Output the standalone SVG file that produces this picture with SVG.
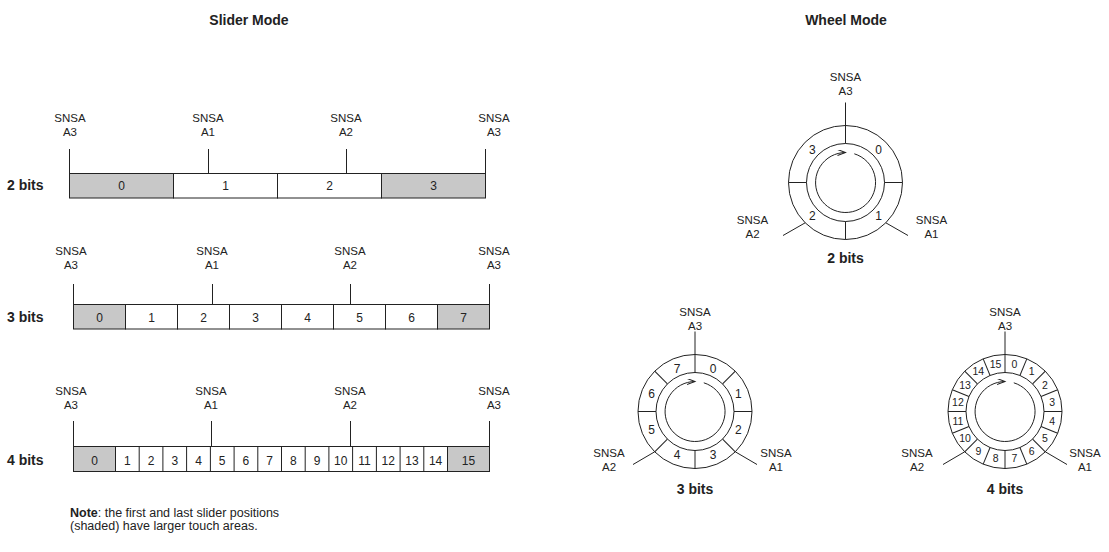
<svg xmlns="http://www.w3.org/2000/svg" width="1109" height="552" viewBox="0 0 1109 552">
<defs>
<style>
text{font-family:"Liberation Sans",Arial,sans-serif;fill:#222;}
.lb{font-size:11.5px;text-anchor:middle;}
.num{font-size:12px;text-anchor:middle;}
.n4{font-size:10.5px;text-anchor:middle;}
.b{font-size:14px;font-weight:bold;}
.t{font-size:14px;font-weight:bold;text-anchor:middle;}
.ln{stroke:#222;stroke-width:1;fill:none;}
.bar{stroke:#222;stroke-width:1;fill:#fff;}
.sh{fill:#c8c8c8;stroke:#222;stroke-width:1;}
.note{font-size:12.5px;}
</style>
<marker id="ah" markerUnits="userSpaceOnUse" markerWidth="10" markerHeight="8" refX="8" refY="3" orient="auto">
<path d="M0,0 L8,3 L0,6" fill="none" stroke="#222" stroke-width="1"/>
</marker>
</defs>

<text class="t" x="249" y="25">Slider Mode</text>
<text class="t" x="846" y="25">Wheel Mode</text>

<!-- Slider 2 bits -->
<g id="slider2">
<text class="b" x="7" y="190">2 bits</text>
<rect class="sh" x="69.5" y="173.5" width="104" height="24.5"/>
<rect class="bar" x="173.5" y="173.5" width="104" height="24.5"/>
<rect class="bar" x="277.5" y="173.5" width="104" height="24.5"/>
<rect class="sh" x="381.5" y="173.5" width="104" height="24.5"/>
<text class="num" x="121.5" y="190">0</text>
<text class="num" x="225.5" y="190">1</text>
<text class="num" x="329.5" y="190">2</text>
<text class="num" x="433.5" y="190">3</text>
</g>
<!-- Slider 3 bits -->
<g id="slider3">
<text class="b" x="7" y="322">3 bits</text>
<rect class="sh" x="73.5" y="304.5" width="52" height="24.5"/>
<rect class="bar" x="125.5" y="304.5" width="52" height="24.5"/>
<rect class="bar" x="177.5" y="304.5" width="52" height="24.5"/>
<rect class="bar" x="229.5" y="304.5" width="52" height="24.5"/>
<rect class="bar" x="281.5" y="304.5" width="52" height="24.5"/>
<rect class="bar" x="333.5" y="304.5" width="52" height="24.5"/>
<rect class="bar" x="385.5" y="304.5" width="52" height="24.5"/>
<rect class="sh" x="437.5" y="304.5" width="52" height="24.5"/>
<text class="num" x="99.5" y="322">0</text>
<text class="num" x="151.5" y="322">1</text>
<text class="num" x="203.5" y="322">2</text>
<text class="num" x="255.5" y="322">3</text>
<text class="num" x="307.5" y="322">4</text>
<text class="num" x="359.5" y="322">5</text>
<text class="num" x="411.5" y="322">6</text>
<text class="num" x="463.5" y="322">7</text>
</g>
<!-- Slider 4 bits -->
<g id="slider4">
<text class="b" x="7" y="465">4 bits</text>
<rect class="bar" x="73.5" y="446.5" width="416" height="25"/>
<rect class="sh" x="73.5" y="446.5" width="42" height="25"/>
<rect class="sh" x="447.5" y="446.5" width="42" height="25"/>
<g class="ln">
<line x1="139.2" y1="446.5" x2="139.2" y2="471.5"/>
<line x1="162.9" y1="446.5" x2="162.9" y2="471.5"/>
<line x1="186.6" y1="446.5" x2="186.6" y2="471.5"/>
<line x1="210.4" y1="446.5" x2="210.4" y2="471.5"/>
<line x1="234.1" y1="446.5" x2="234.1" y2="471.5"/>
<line x1="257.8" y1="446.5" x2="257.8" y2="471.5"/>
<line x1="281.5" y1="446.5" x2="281.5" y2="471.5"/>
<line x1="305.2" y1="446.5" x2="305.2" y2="471.5"/>
<line x1="328.9" y1="446.5" x2="328.9" y2="471.5"/>
<line x1="352.6" y1="446.5" x2="352.6" y2="471.5"/>
<line x1="376.4" y1="446.5" x2="376.4" y2="471.5"/>
<line x1="400.1" y1="446.5" x2="400.1" y2="471.5"/>
<line x1="423.8" y1="446.5" x2="423.8" y2="471.5"/>
</g>
<text class="num" x="94.5" y="465">0</text>
<text class="num" x="127.4" y="465">1</text>
<text class="num" x="151.1" y="465">2</text>
<text class="num" x="174.8" y="465">3</text>
<text class="num" x="198.5" y="465">4</text>
<text class="num" x="222.2" y="465">5</text>
<text class="num" x="245.9" y="465">6</text>
<text class="num" x="269.6" y="465">7</text>
<text class="num" x="293.4" y="465">8</text>
<text class="num" x="317.1" y="465">9</text>
<text class="num" x="340.8" y="465">10</text>
<text class="num" x="364.5" y="465">11</text>
<text class="num" x="388.2" y="465">12</text>
<text class="num" x="411.9" y="465">13</text>
<text class="num" x="435.6" y="465">14</text>
<text class="num" x="468.5" y="465">15</text>
</g>

<!-- Slider sensor labels -->
<g id="slider-labels">
<text class="lb" x="70" y="122">SNSA</text><text class="lb" x="70" y="136">A3</text>
<text class="lb" x="208" y="122">SNSA</text><text class="lb" x="208" y="136">A1</text>
<text class="lb" x="346" y="122">SNSA</text><text class="lb" x="346" y="136">A2</text>
<text class="lb" x="494" y="122">SNSA</text><text class="lb" x="494" y="136">A3</text>
<text class="lb" x="71" y="255">SNSA</text><text class="lb" x="71" y="269">A3</text>
<text class="lb" x="212" y="255">SNSA</text><text class="lb" x="212" y="269">A1</text>
<text class="lb" x="350" y="255">SNSA</text><text class="lb" x="350" y="269">A2</text>
<text class="lb" x="494" y="255">SNSA</text><text class="lb" x="494" y="269">A3</text>
<text class="lb" x="71" y="395">SNSA</text><text class="lb" x="71" y="409">A3</text>
<text class="lb" x="211" y="395">SNSA</text><text class="lb" x="211" y="409">A1</text>
<text class="lb" x="350" y="395">SNSA</text><text class="lb" x="350" y="409">A2</text>
<text class="lb" x="494" y="395">SNSA</text><text class="lb" x="494" y="409">A3</text>
</g>

<!-- Wheel 2 bits -->
<g id="wheel2" transform="translate(845.5,182.5)">
<circle class="ln" r="57"/>
<circle class="ln" r="39"/>
<path class="ln" d="M8.8,-28.7 A30,30 0 1 1 0,-30" marker-end="url(#ah)"/>
<line class="ln" x1="0" y1="-80" x2="0" y2="-39"/>
<line class="ln" x1="39" y1="0" x2="57" y2="0"/>
<line class="ln" x1="0" y1="39" x2="0" y2="57"/>
<line class="ln" x1="-39" y1="0" x2="-57" y2="0"/>
<line class="ln" x1="40.3" y1="40.3" x2="62.5" y2="53"/>
<line class="ln" x1="-40.3" y1="40.3" x2="-62.5" y2="53"/>
<text class="num" x="33.2" y="-29">0</text>
<text class="num" x="33.2" y="37.5">1</text>
<text class="num" x="-33.2" y="37.5">2</text>
<text class="num" x="-33.2" y="-29">3</text>
<text class="lb" x="0" y="-102">SNSA</text><text class="lb" x="0" y="-88">A3</text>
<text class="lb" x="-93" y="41">SNSA</text><text class="lb" x="-93" y="55">A2</text>
<text class="lb" x="86" y="41">SNSA</text><text class="lb" x="86" y="55">A1</text>
<text class="t" x="0" y="80">2 bits</text>
</g>

<!-- Wheel 3 bits -->
<g id="wheel3" transform="translate(695,411.5)">
<circle class="ln" r="57"/>
<circle class="ln" r="39"/>
<path class="ln" d="M8.8,-28.7 A30,30 0 1 1 0,-30" marker-end="url(#ah)"/>
<line class="ln" x1="0" y1="-80" x2="0" y2="-39"/>
<g class="ln">
<line x1="0" y1="-39" x2="0" y2="-57" transform="rotate(45)"/>
<line x1="0" y1="-39" x2="0" y2="-57" transform="rotate(90)"/>
<line x1="0" y1="-39" x2="0" y2="-57" transform="rotate(135)"/>
<line x1="0" y1="-39" x2="0" y2="-57" transform="rotate(180)"/>
<line x1="0" y1="-39" x2="0" y2="-57" transform="rotate(225)"/>
<line x1="0" y1="-39" x2="0" y2="-57" transform="rotate(270)"/>
<line x1="0" y1="-39" x2="0" y2="-57" transform="rotate(315)"/>
</g>
<line class="ln" x1="40.3" y1="40.3" x2="62" y2="53"/>
<line class="ln" x1="-40.3" y1="40.3" x2="-62" y2="53"/>
<text class="num" x="18" y="-39">0</text>
<text class="num" x="43.4" y="-13.6">1</text>
<text class="num" x="43.4" y="22.4">2</text>
<text class="num" x="18" y="47.8">3</text>
<text class="num" x="-18" y="47.8">4</text>
<text class="num" x="-43.4" y="22.4">5</text>
<text class="num" x="-43.4" y="-13.6">6</text>
<text class="num" x="-18" y="-39">7</text>
<text class="lb" x="0" y="-96">SNSA</text><text class="lb" x="0" y="-82">A3</text>
<text class="lb" x="-86" y="45">SNSA</text><text class="lb" x="-86" y="59">A2</text>
<text class="lb" x="81" y="45">SNSA</text><text class="lb" x="81" y="59">A1</text>
<text class="t" x="0" y="82">3 bits</text>
</g>

<!-- Wheel 4 bits -->
<g id="wheel4" transform="translate(1005,411.5)">
<circle class="ln" r="57"/>
<circle class="ln" r="39"/>
<path class="ln" d="M8.8,-28.7 A30,30 0 1 1 0,-30" marker-end="url(#ah)"/>
<line class="ln" x1="0" y1="-80" x2="0" y2="-39"/>
<g class="ln">
<line x1="0" y1="-39" x2="0" y2="-57" transform="rotate(22.5)"/>
<line x1="0" y1="-39" x2="0" y2="-57" transform="rotate(45)"/>
<line x1="0" y1="-39" x2="0" y2="-57" transform="rotate(67.5)"/>
<line x1="0" y1="-39" x2="0" y2="-57" transform="rotate(90)"/>
<line x1="0" y1="-39" x2="0" y2="-57" transform="rotate(112.5)"/>
<line x1="0" y1="-39" x2="0" y2="-57" transform="rotate(135)"/>
<line x1="0" y1="-39" x2="0" y2="-57" transform="rotate(157.5)"/>
<line x1="0" y1="-39" x2="0" y2="-57" transform="rotate(180)"/>
<line x1="0" y1="-39" x2="0" y2="-57" transform="rotate(202.5)"/>
<line x1="0" y1="-39" x2="0" y2="-57" transform="rotate(225)"/>
<line x1="0" y1="-39" x2="0" y2="-57" transform="rotate(247.5)"/>
<line x1="0" y1="-39" x2="0" y2="-57" transform="rotate(270)"/>
<line x1="0" y1="-39" x2="0" y2="-57" transform="rotate(292.5)"/>
<line x1="0" y1="-39" x2="0" y2="-57" transform="rotate(315)"/>
<line x1="0" y1="-39" x2="0" y2="-57" transform="rotate(337.5)"/>
</g>
<line class="ln" x1="40.3" y1="40.3" x2="62" y2="53"/>
<line class="ln" x1="-40.3" y1="40.3" x2="-62" y2="53"/>
<text class="n4" x="9.4" y="-43.4">0</text>
<text class="n4" x="26.7" y="-36.2">1</text>
<text class="n4" x="39.9" y="-23">2</text>
<text class="n4" x="47.1" y="-5.7">3</text>
<text class="n4" x="47.1" y="13">4</text>
<text class="n4" x="39.9" y="30.3">5</text>
<text class="n4" x="26.7" y="43.6">6</text>
<text class="n4" x="9.4" y="50.8">7</text>
<text class="n4" x="-9.4" y="50.8">8</text>
<text class="n4" x="-26.7" y="43.6">9</text>
<text class="n4" x="-39.9" y="30.3">10</text>
<text class="n4" x="-47.1" y="13">11</text>
<text class="n4" x="-47.1" y="-5.7">12</text>
<text class="n4" x="-39.9" y="-23">13</text>
<text class="n4" x="-26.7" y="-36.2">14</text>
<text class="n4" x="-9.4" y="-43.4">15</text>
<text class="lb" x="0" y="-96">SNSA</text><text class="lb" x="0" y="-82">A3</text>
<text class="lb" x="-88" y="45">SNSA</text><text class="lb" x="-88" y="59">A2</text>
<text class="lb" x="80" y="45">SNSA</text><text class="lb" x="80" y="59">A1</text>
<text class="t" x="0" y="82">4 bits</text>
</g>

<!-- Connectors: sensor taps on sliders -->
<g id="connectors" class="ln">
<line x1="69.5" y1="149" x2="69.5" y2="173.5"/>
<line x1="208.5" y1="149" x2="208.5" y2="173.5"/>
<line x1="346.5" y1="149" x2="346.5" y2="173.5"/>
<line x1="485.5" y1="149" x2="485.5" y2="173.5"/>
<line x1="73.5" y1="284" x2="73.5" y2="304.5"/>
<line x1="212.5" y1="284" x2="212.5" y2="304.5"/>
<line x1="350.5" y1="284" x2="350.5" y2="304.5"/>
<line x1="489.5" y1="284" x2="489.5" y2="304.5"/>
<line x1="73.5" y1="421" x2="73.5" y2="446.5"/>
<line x1="211.5" y1="421" x2="211.5" y2="446.5"/>
<line x1="350.5" y1="421" x2="350.5" y2="446.5"/>
<line x1="489.5" y1="421" x2="489.5" y2="446.5"/>
</g>

<g id="note">
<text class="note" x="70" y="517"><tspan font-weight="bold">Note</tspan>: the first and last slider positions</text>
<text class="note" x="70" y="530">(shaded) have larger touch areas.</text>
</g>
</svg>
